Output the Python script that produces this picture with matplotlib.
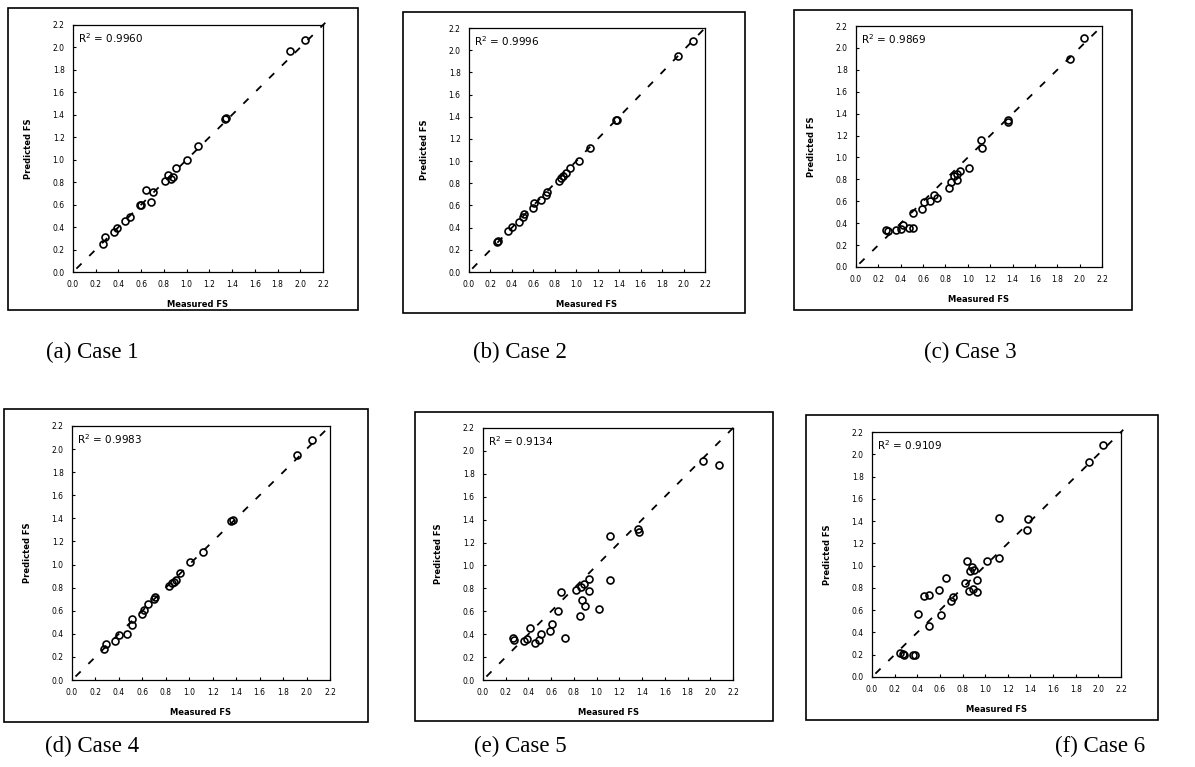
import numpy as np
import matplotlib
matplotlib.use("Agg")
import matplotlib.pyplot as plt
from matplotlib.patches import Rectangle

# Measured / predicted FS for each case
case1_x = [0.26, 0.28, 0.36, 0.39, 0.46, 0.50, 0.59, 0.60, 0.64, 0.70, 0.69, 0.81, 0.84, 0.86, 0.88, 0.91, 1.00, 1.10, 1.34, 1.35, 1.91, 2.04]
case1_y = [0.25, 0.31, 0.36, 0.39, 0.45, 0.49, 0.60, 0.60, 0.73, 0.71, 0.62, 0.81, 0.86, 0.83, 0.85, 0.93, 1.00, 1.12, 1.36, 1.37, 1.97, 2.07]

case2_x = [0.27, 0.26, 0.36, 0.40, 0.47, 0.50, 0.51, 0.60, 0.61, 0.67, 0.72, 0.73, 0.84, 0.86, 0.88, 0.90, 0.94, 1.03, 1.13, 1.37, 1.38, 1.95, 2.09]
case2_y = [0.28, 0.27, 0.37, 0.41, 0.45, 0.50, 0.52, 0.58, 0.62, 0.65, 0.69, 0.72, 0.82, 0.85, 0.87, 0.89, 0.94, 1.00, 1.12, 1.37, 1.37, 1.95, 2.08]

case3_x = [0.27, 0.29, 0.36, 0.42, 0.40, 0.47, 0.51, 0.51, 0.59, 0.61, 0.66, 0.70, 0.72, 0.83, 0.85, 0.88, 0.90, 0.90, 0.93, 1.01, 1.12, 1.13, 1.36, 1.36, 1.91, 2.04]
case3_y = [0.34, 0.33, 0.34, 0.38, 0.35, 0.36, 0.36, 0.49, 0.53, 0.59, 0.60, 0.66, 0.63, 0.72, 0.78, 0.83, 0.79, 0.85, 0.88, 0.90, 1.16, 1.09, 1.34, 1.32, 1.90, 2.09]

case4_x = [0.27, 0.29, 0.37, 0.40, 0.47, 0.51, 0.51, 0.60, 0.61, 0.65, 0.70, 0.71, 0.83, 0.85, 0.87, 0.89, 0.92, 1.01, 1.12, 1.36, 1.37, 1.92, 2.05]
case4_y = [0.27, 0.31, 0.34, 0.39, 0.40, 0.48, 0.53, 0.57, 0.61, 0.66, 0.70, 0.72, 0.81, 0.84, 0.85, 0.87, 0.93, 1.02, 1.11, 1.38, 1.39, 1.95, 2.08]

case5_x = [0.26, 0.27, 0.36, 0.39, 0.41, 0.46, 0.49, 0.51, 0.59, 0.61, 0.66, 0.69, 0.72, 0.82, 0.85, 0.86, 0.87, 0.89, 0.90, 0.93, 0.93, 1.02, 1.12, 1.12, 1.36, 1.37, 1.94, 2.08]
case5_y = [0.37, 0.35, 0.34, 0.36, 0.45, 0.32, 0.35, 0.40, 0.43, 0.49, 0.60, 0.77, 0.37, 0.79, 0.56, 0.81, 0.70, 0.84, 0.65, 0.88, 0.78, 0.62, 0.87, 1.26, 1.32, 1.29, 1.91, 1.88]

case6_x = [0.25, 0.27, 0.28, 0.36, 0.38, 0.41, 0.46, 0.50, 0.50, 0.59, 0.61, 0.65, 0.70, 0.72, 0.82, 0.84, 0.86, 0.87, 0.88, 0.90, 0.89, 0.93, 0.93, 1.02, 1.12, 1.12, 1.37, 1.38, 1.92, 2.04]
case6_y = [0.22, 0.21, 0.20, 0.20, 0.20, 0.57, 0.73, 0.74, 0.46, 0.78, 0.56, 0.89, 0.68, 0.72, 0.84, 1.04, 0.77, 0.95, 0.99, 0.96, 0.79, 0.87, 0.76, 1.04, 1.07, 1.43, 1.32, 1.42, 1.93, 2.08]

xs = [case1_x, case2_x, case3_x, case4_x, case5_x, case6_x]
ys = [case1_y, case2_y, case3_y, case4_y, case5_y, case6_y]
r2 = ["0.9960", "0.9996", "0.9869", "0.9983", "0.9134", "0.9109"]
captions = ["(a) Case 1", "(b) Case 2", "(c) Case 3", "(d) Case 4", "(e) Case 5", "(f) Case 6"]
ticks = [0.0, 0.2, 0.4, 0.6, 0.8, 1.0, 1.2, 1.4, 1.6, 1.8, 2.0, 2.2]

W, H = 1195, 767
# axes boxes in pixels: left, top, right, bottom
ax_px = [(73, 25, 323, 272), (469, 28, 705, 272), (856, 26, 1102, 267),
         (72, 426, 330, 680), (483, 428, 733, 680), (872, 432, 1121, 677)]
# outer frame boxes in pixels
box_px = [(8, 8, 358, 310), (403, 12, 745, 313), (794, 10, 1132, 310),
          (4, 409, 368, 722), (415, 412, 773, 721), (806, 415, 1158, 720)]
cap_px = [(92, 352), (520, 352), (970, 352), (92, 746), (520, 746), (1100, 746)]

fig = plt.figure(figsize=(W / 100, H / 100), dpi=100)

for i in range(6):
    l, t, r, b = ax_px[i]
    ax = fig.add_axes([l / W, 1 - b / H, (r - l) / W, (b - t) / H])
    ax.plot([0.03, 2.22], [0.03, 2.22], color="black", lw=1.3,
            dashes=(4, 6), clip_on=False)
    ax.plot(xs[i], ys[i], "o", mfc="none", mec="black", ms=5, mew=1.2)
    ax.set_xlim(0, 2.2)
    ax.set_ylim(0, 2.2)
    ax.set_xticks(ticks)
    ax.set_yticks(ticks)
    ax.set_xticklabels(["%.1f" % v for v in ticks])
    ax.set_yticklabels(["%.1f" % v for v in ticks])
    ax.tick_params(direction="in", length=2, width=0.8, labelsize=5.5, pad=6)
    for s in ax.spines.values():
        s.set_linewidth(0.9)
    ax.set_xlabel("Measured FS", fontsize=6, fontweight="bold", labelpad=8)
    ax.set_ylabel("Predicted FS", fontsize=6, fontweight="bold", labelpad=14)
    ax.text(0.02, 0.975, "R$^2$ = " + r2[i], transform=ax.transAxes,
            ha="left", va="top", fontsize=7.5)

    bl, bt, br, bb = box_px[i]
    fig.patches.append(Rectangle((bl / W, 1 - bb / H), (br - bl) / W, (bb - bt) / H,
                                 transform=fig.transFigure, fill=False,
                                 edgecolor="black", lw=1.2))
    cx, cy = cap_px[i]
    fig.text(cx / W, 1 - cy / H, captions[i], ha="center", va="center",
             fontsize=16.5, family="Liberation Serif")

fig.savefig("out.png", dpi=100)
